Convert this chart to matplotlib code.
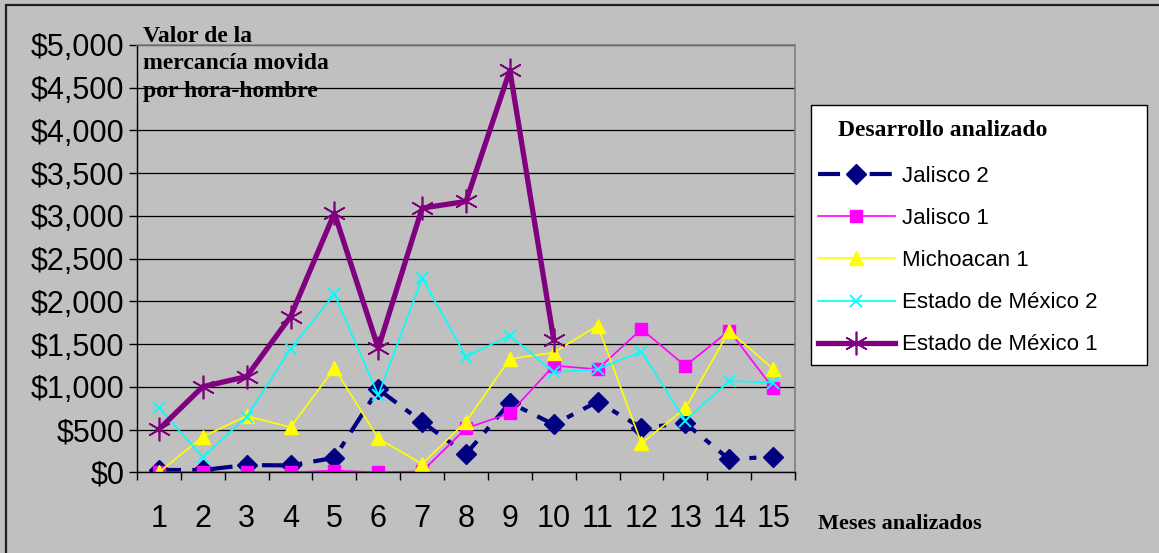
import matplotlib
matplotlib.use("Agg")
import matplotlib.pyplot as plt
from matplotlib.patches import Rectangle
from matplotlib.ticker import FuncFormatter, MultipleLocator

# --- datos ---
meses = list(range(1, 16))
jalisco2 = [27, 27, 85, 80, 170, 972, 590, 214, 815, 560, 827, 520, 574, 152, 183]
jalisco1 = [0, 0, 0, 0, 20, 0, 10, 515, 691, 1248, 1206, 1675, 1245, 1658, 984]
michoacan1 = [0, 417, 659, 527, 1218, 398, 97, 593, 1327, 1401, 1717, 340, 749, 1658, 1210]
edomex2 = [757, 176, 651, 1444, 2084, 905, 2272, 1354, 1600, 1171, 1206, 1412, 604, 1069, 1049]
edomex1 = [503, 1002, 1120, 1822, 3033, 1452, 3092, 3169, 4703, 1550]

etiquetas = ["Jalisco 2", "Jalisco 1", "Michoacan 1",
             "Estado de México 2", "Estado de México 1"]

FONDO = "#C0C0C0"
SANS = "Liberation Sans"
SERIF = "Liberation Serif"
W, H = 1159, 553

fig = plt.figure(figsize=(W / 100, H / 100), dpi=100, facecolor=FONDO)

# marco exterior (el borde derecho e inferior quedan fuera)
fig.patches.append(Rectangle((6 / W, -0.1), 1.2, 1.1 - 5 / H,
                             transform=fig.transFigure, fill=False,
                             edgecolor="#202020", lw=1.6, zorder=0))

ax = fig.add_axes([137 / W, (H - 472.3) / H, (795 - 137) / W, (472.3 - 45) / H])
ax.set_facecolor(FONDO)

ax.plot(meses, jalisco2, color="#000080", lw=3, dashes=(5.3, 2.7, 1.7, 2.7),
        marker="D", markersize=10, label=etiquetas[0])
ax.plot(meses, jalisco1, color="#FF00FF", lw=1.2,
        marker="s", markersize=8, label=etiquetas[1])
ax.plot(meses, michoacan1, color="#FFFF00", lw=1.2,
        marker="^", markersize=10, label=etiquetas[2])
ax.plot(meses, edomex2, color="#00FFFF", lw=1.2,
        marker="x", markersize=9, markeredgewidth=1.3, label=etiquetas[3])
ax.plot(meses[:len(edomex1)], edomex1, color="#800080", lw=3.8,
        marker=(6, 2, 0), markersize=17, markeredgewidth=1.2,
        label=etiquetas[4])

ax.set_xlim(0.5, 15.5)
ax.set_ylim(0, 5000)
ax.yaxis.set_major_locator(MultipleLocator(500))
ax.yaxis.set_major_formatter(FuncFormatter(lambda v, p: f"${v:,.0f}"))
ax.set_xticks(meses)
ax.set_xticks([m + 0.5 for m in range(0, 16)], minor=True)
ax.tick_params(axis="x", which="major", length=0, pad=23, labelsize=22)
ax.tick_params(axis="x", which="minor", length=6, width=1, direction="out")
ax.tick_params(axis="y", length=6, width=1, direction="out", pad=3, labelsize=22)
for lab in ax.get_xticklabels() + ax.get_yticklabels():
    lab.set_fontfamily(SANS)

ax.grid(axis="y", color="black", lw=0.9)
ax.set_axisbelow(True)
for lado in ["top", "right"]:
    ax.spines[lado].set_color("#808080")
    ax.spines[lado].set_linewidth(1.2)
for lado in ["left", "bottom"]:
    ax.spines[lado].set_color("black")
    ax.spines[lado].set_linewidth(1)

# textos de ejes
fig.text(143 / W, (H - 26) / H, "Valor de la\nmercancía movida\npor hora-hombre",
         family=SERIF, weight="bold", fontsize=17, ha="left", va="top",
         linespacing=1.4)
fig.text(818 / W, (H - 529) / H, "Meses analizados", family=SERIF,
         weight="bold", fontsize=16, ha="left", va="baseline")

# leyenda
fig.patches.append(Rectangle((811 / W, (H - 365) / H), (1147 - 811) / W, (365 - 105) / H,
                             transform=fig.transFigure, facecolor="white",
                             edgecolor="black", lw=1, zorder=1))
fig.text(838 / W, (H - 136) / H, "Desarrollo analizado", family=SERIF,
         weight="bold", fontsize=17, ha="left", va="baseline", zorder=3)
leg = fig.legend(loc="upper left", bbox_to_anchor=(818 / W, (H - 166) / H),
                 frameon=False, prop={"family": SANS, "size": 16},
                 handlelength=3.46, handletextpad=0.32, labelspacing=0.95,
                 borderpad=0, borderaxespad=0)
leg.set_zorder(3)

fig.savefig("out.png", dpi=100, facecolor=FONDO)
